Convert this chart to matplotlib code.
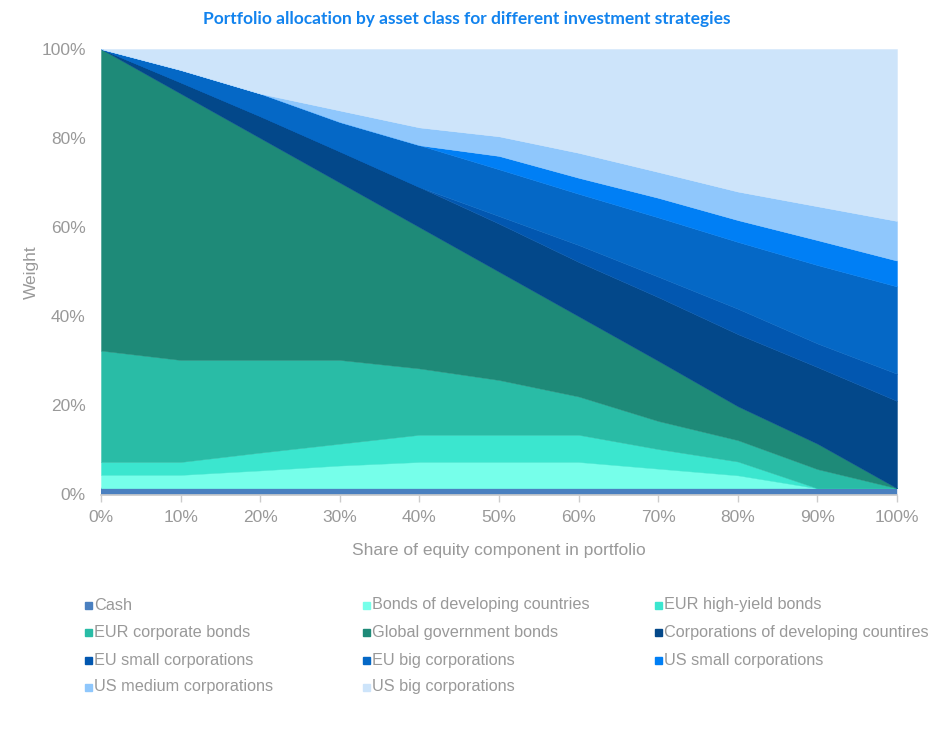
import matplotlib
matplotlib.use("Agg")
import matplotlib.pyplot as plt
from matplotlib.patches import Rectangle
import numpy as np

x_share = [0, 10, 20, 30, 40, 50, 60, 70, 80, 90, 100]

categories = ["Cash", "Bonds of developing countries", "EUR high-yield bonds",
              "EUR corporate bonds", "Global government bonds",
              "Corporations of developing countires", "EU small corporations",
              "EU big corporations", "US small corporations",
              "US medium corporations", "US big corporations"]

cash      = [1.4, 1.4, 1.4, 1.4, 1.4, 1.4, 1.4, 1.4, 1.4, 1.4, 1.4]
bonds_dev = [3.0, 3.0, 4.0, 5.1, 5.9, 5.9, 5.9, 4.4, 2.9, 0.0, 0.0]
eur_hy    = [2.9, 2.9, 4.0, 4.9, 6.1, 6.1, 6.1, 4.4, 3.1, 0.0, 0.0]
eur_corp  = [25.0, 22.9, 20.8, 18.8, 14.9, 12.3, 8.6, 6.3, 4.8, 4.3, 0.0]
gov_bonds = [67.7, 59.8, 49.8, 39.8, 31.7, 24.3, 18.0, 13.5, 7.6, 5.7, 0.0]
dev_corp  = [0.0, 2.5, 4.9, 7.0, 9.0, 10.8, 12.2, 14.3, 16.2, 17.2, 19.6]
eu_small  = [0.0, 0.0, 0.0, 0.0, 0.0, 1.7, 3.8, 4.6, 5.7, 5.3, 6.1]
eu_big    = [0.0, 2.8, 5.1, 6.6, 9.4, 10.5, 11.5, 13.3, 15.0, 17.6, 19.6]
us_small  = [0.0, 0.0, 0.0, 0.0, 0.0, 3.0, 3.6, 4.4, 4.9, 5.6, 5.8]
us_medium = [0.0, 0.0, 0.0, 2.6, 4.0, 4.4, 5.6, 5.8, 6.4, 7.6, 8.9]
us_big    = [0.0, 4.7, 10.0, 13.8, 17.6, 19.6, 23.3, 27.6, 32.0, 35.3, 38.6]

colors = ["#4a80c0", "#76ffea", "#3be6cf", "#29bca6", "#1e8a78", "#03488a",
          "#0257b0", "#0568c6", "#007ff5", "#8fc7fc", "#cde4fa"]

series = [cash, bonds_dev, eur_hy, eur_corp, gov_bonds, dev_corp, eu_small,
          eu_big, us_small, us_medium, us_big]

fig = plt.figure(figsize=(9.34, 7.29), dpi=100)
W, H = 934, 729
ax = fig.add_axes([101 / W, 1 - 494.5 / H, (897 - 101) / W, (494.5 - 49) / H])

ax.stackplot(x_share, *series, colors=colors, linewidth=0.3,
             edgecolor=None)
for coll, c in zip(ax.collections, colors):
    coll.set_edgecolor(c)

ax.set_xlim(0, 100)
ax.set_ylim(0, 100)
gray = "#999999"
ax.set_xticks(range(0, 101, 10))
ax.set_xticklabels([f"{v}%" for v in range(0, 101, 10)])
ax.set_yticks(range(0, 101, 20))
ax.set_yticklabels([f"{v}%" for v in range(0, 101, 20)])
for s in ["top", "right", "left"]:
    ax.spines[s].set_visible(False)
ax.spines["bottom"].set_color("#cccccc")
ax.spines["bottom"].set_linewidth(1.2)
ax.tick_params(axis="x", colors="#cccccc", length=5, width=1, labelcolor=gray,
               labelsize=12.5, pad=6)
ax.tick_params(axis="y", length=0, labelcolor=gray, labelsize=12.5, pad=11)
for lab in ax.get_xticklabels() + ax.get_yticklabels():
    lab.set_fontfamily("Liberation Sans")

ax.set_xlabel("Share of equity component in portfolio", color=gray,
              fontsize=12.5, family="Liberation Sans", labelpad=13)
ax.set_ylabel("Weight", color=gray, fontsize=12.5, family="Liberation Sans",
              labelpad=2)

fig.text(467 / W, 1 - 19 / H,
         "Portfolio allocation by asset class for different investment strategies",
         ha="center", va="center", color="#1283ee", fontsize=12.5,
         fontweight="bold", family="Lato")

# legend, filled row-wise in three columns
col_x = [85, 363, 655]
row_y = [605, 632, 660, 687]
for i, (name, c) in enumerate(zip(categories, colors)):
    r, k = divmod(i, 3)
    sx, sy = col_x[k], row_y[r]
    fig.add_artist(Rectangle((sx / W, 1 - (sy + 3.5) / H), 7 / W, 7 / H,
                             transform=fig.transFigure, color=c))
    fig.text((sx + 9) / W, 1 - sy / H, name, ha="left", va="center",
             color=gray, fontsize=11.7, family="Liberation Sans")

fig.savefig("out.png", dpi=100)
